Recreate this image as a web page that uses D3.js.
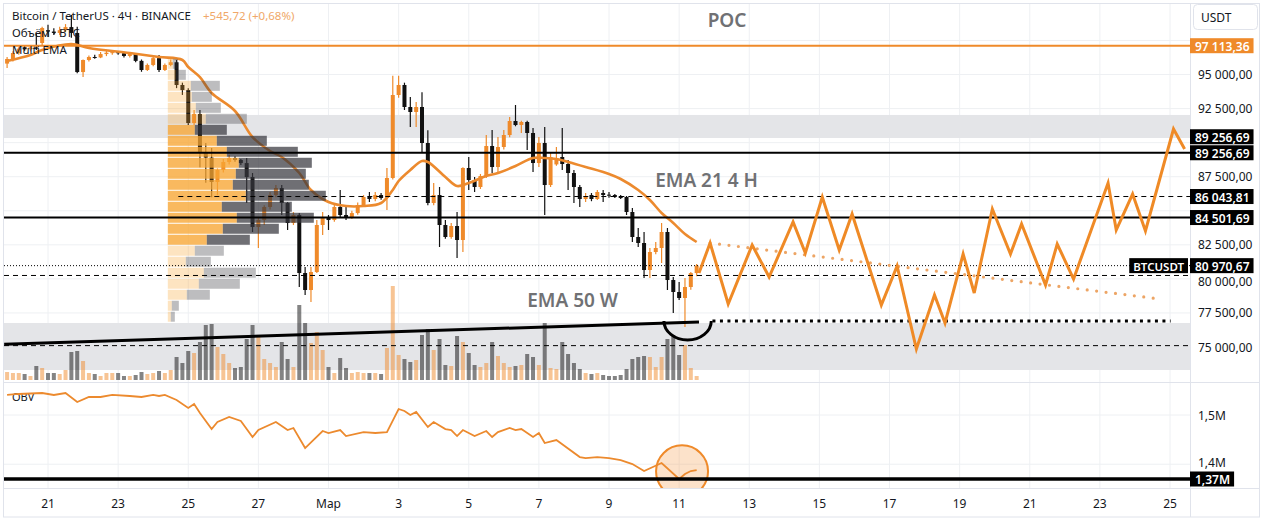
<!DOCTYPE html>
<html><head><meta charset="utf-8">
<script src="https://cdn.jsdelivr.net/npm/d3@7"></script>
<style>html,body{margin:0;padding:0;background:#fff}svg{display:block;font-family:"Noto Sans",sans-serif}</style>
</head><body>
<svg id="chart" width="1262" height="524"></svg>
<script>
// ---------- DATA ----------
const T0 = Date.UTC(2025,1,21);            // candle index 0 = 21 Feb 2025 00:00 UTC
const H4 = 4*3600e3;
const FIRST = -7;                          // first visible candle index
// [open, high, low, close] for 4H candles from index -7 to 111
const ohlc = [
[95800,96280,95480,96140],[96140,96700,95950,96578],[96578,97000,96450,96900],[97000,97150,96750,96850],[96850,97050,96700,96990],[96990,98000,96800,96900],[97312,98500,97100,98413],
[98250,98650,97750,98150],[98150,98400,97900,98050],[98050,98500,97900,98250],[98250,98700,98100,98480],[98480,99370,97700,98050],[98050,98500,95100,95180],[95180,96100,94820,96064],[96064,96400,95950,96285],[96285,96450,96150,96250],[96250,96650,96200,96500],
[96500,96750,96350,96600],[96600,96800,96450,96640],[96640,96700,96450,96560],[96560,96650,96250,96360],[96360,96600,96250,96500],[96500,96550,95900,96000],[96000,96100,95200,95330],[95330,95800,95250,95700],[95700,96300,95600,96200],[96200,96430,95180,95330],
[95330,95800,95250,95700],[95700,96100,95600,95900],[95900,96064,94000,94230],[94230,94400,93500,93860],[93860,94000,91300,91440],[91440,92400,91300,92100],[92100,92400,88200,89310],[89310,89970,87050,88900],[88900,89600,86000,87110],[87110,88100,86150,87990],
[87990,88800,87800,88578],[88578,89100,88400,88870],[88870,89000,88600,88724],[88724,88800,88350,88500],[88500,88870,85568,87476],[87476,87770,83440,83807],[83807,84500,82266,84320],[84320,85400,83950,85275],[85275,86376,85100,86155],[86155,86889,86000,86669],
[86669,86889,84687,85568],[85568,85640,83587,84100],[84100,84900,83950,84687],[84687,84830,79403,80431],[80431,80870,78816,79183],[79183,80870,78300,80504],[80504,84320,80431,83954],[83954,84908,83220,84467],[84467,84687,83587,84320],[84320,85568,84200,85275],
[85275,86522,84540,84687],[84687,85421,84320,84540],[84540,85000,84400,84830],[84830,85600,84700,85421],[85421,86150,85300,86008],[86008,86376,85640,85862],[85862,86376,85700,86155],[86155,86300,85800,85935],[85935,88137,85054,87403],[87403,94900,87300,93495],
[93495,94900,93300,94229],[94229,94400,92394,92615],[92615,93350,91150,92248],[92248,92980,91150,92615],[92615,93700,89238,89972],[89972,90900,85400,85568],[85568,87036,85400,86155],[86155,86743,82340,83954],[83954,84320,82950,83073],[83073,84100,82950,83880],
[83880,84900,81530,82853],[82853,88200,81972,88137],[88137,88945,86522,87256],[87256,87476,86376,86743],[86743,87700,86600,87550],[87550,90559,87403,89752],[89752,90926,87770,88210],[88210,90412,87770,89679],[89679,90926,89500,90559],[90559,91880,90400,91587],
[91587,92760,91200,91294],[91294,91600,90706,91514],[91514,91600,89459,90706],[90706,91074,87843,88504],[88504,90412,88210,89972],[89972,91147,84687,86889],[86889,89238,86743,88945],[88400,89679,88300,88871],[88945,91074,87990,88431],[88431,88724,86522,87770],
[87770,87990,85568,86743],[86743,86889,85275,85862],[85862,86302,85640,86082],[86155,86300,85700,85862],[85862,86522,85788,86376],[86302,86522,85640,86155],[86180,86380,85950,86130],[86155,86230,85935,86008],[86082,86155,85862,85935],[86008,86082,84687,84908],
[84908,85200,82700,83073],[83073,83734,82340,82633],[82633,83440,80064,80651],[80651,82266,80064,81972],[81972,82706,81800,82266],[82266,84100,81165,83440],[83440,83734,79183,79917],[79917,80137,77500,79037],[79037,79770,78449,78596],[78596,80064,76467,79403],
[79403,80500,79200,80425],[80425,81100,80200,80970.67]
];
const volume = [800,700,700,600,400,1400,1200,
700,700,600,1000,2800,2900,1900,700,600,400,
700,700,700,400,400,500,800,600,700,900,
700,1000,2300,1700,2900,2700,3800,5500,5600,3300,
2600,1700,1200,1300,4100,5500,4500,2100,1700,1300,
3800,2100,1300,7500,5700,3700,4800,3000,1300,700,
2200,1200,700,800,700,700,700,600,3200,9400,
2500,2100,1800,2000,4500,5100,3000,4100,1500,1400,
4400,3800,2700,1500,1300,1700,3800,2400,1700,1300,
1400,1500,2600,2300,1500,5700,1200,1100,3800,2600,
1700,1100,700,600,700,500,400,400,500,1100,
2100,2300,2400,2300,1300,2300,4100,4500,2500,3500,
1200,400];
// EMA 21 (4H): [candle index, price]
const emaIdx = [-7,-3,-1,4,7,14,19,23,24,26,28,32,35,38,40,43,45,48,51,54,57,59,60,62,64,65,68,70,72,75,77,80,83,85,87,89,92,96,98,101,103,105,107,109,111];
const emaVal = [95991,96431,96798,97239,96945,96578,96285,96064,95550,94800,93642,92321,90412,89385,88945,87770,86522,85641,85348,85348,85568,86522,87183,87990,88651,88578,87476,86816,87036,87550,87770,88284,88871,88871,88798,88578,88210,87697,87330,86522,85788,84834,84100,83293,82706];
// OBV: [candle index, value in millions]
const obvIdx = [-7,-5,-1,1,3,5,7,9,11,14,16,18,19,20,22,24,25,26,28,29,31,33,35,36,39,41,42,44,47,48,50,51,54,56,58,60,61,62,63,65,66,68,69,70,71,73,75,76,77,79,80,81,83,84,85,87,91,92,94,96,98,100,102,105,108,109,110,111];
const obvVal = [1.5407,1.5427,1.5447,1.5407,1.5447,1.5264,1.5366,1.5366,1.5407,1.5386,1.5366,1.5407,1.5386,1.5407,1.5305,1.5142,1.5224,1.5041,1.4715,1.4858,1.4959,1.4878,1.4553,1.4695,1.4858,1.4695,1.4736,1.4329,1.4675,1.4634,1.4695,1.4573,1.4654,1.4634,1.4654,1.5122,1.5081,1.5000,1.5061,1.4756,1.4858,1.4715,1.4695,1.4573,1.4695,1.4573,1.4675,1.4553,1.4654,1.4736,1.4695,1.4715,1.4553,1.4634,1.4431,1.4492,1.4146,1.4126,1.4146,1.4126,1.4085,1.4004,1.3862,1.4024,1.3700,1.3800,1.3862,1.3882];
// Fixed-range volume profile rows (top to bottom)
const PROF_START = 21, PROF_TOP = 96150, PROF_STEP = 807, VA_ROWS = [6,16];
const profUp   = [500,800,2300,2400,2800,3800,2700,4900,5900,7100,6800,6500,7800,5400,6900,5500,3900,2700,1800,3600,3100,1900,400,300];
const profDown = [500,1000,2900,2000,2500,4100,3200,5000,7100,7300,7000,7600,8000,7000,7700,5600,4300,2900,2500,5200,4100,2300,700,400];
// drawings
const bands = [[92030,90340],[76760,73310]];
const pocLevel = 97113.36;
const solidLevels = [89256.69, 84501.69];
const dashedLevels = [[86043.81,22.3],[80250,-8],[75100,-8]];   // [price, start index]
const lastPrice = 80970.67;
const ema50w = [[-7.5,75200],[111.4,76830]];
const smile = {left:105.4, right:113.5, level:76911, bottom:75516};
const supportDots = [[113.7,76911],[192.1,76911]];
const trendDots = [[113.3,82633],[190.3,78523]];
const zigIdx   = [111.4,113.3,116.4,120.5,123.4,127.5,129.6,132.5,135.4,137.6,142.6,145.3,148.6,151.7,153.5,156.6,158.5,161.6,164.7,166.6,170.7,172.7,175.5,181.4,182.8,185.6,187.8,192.6,194.5];
const zigPrice = [80430,82633,78156,82486,80137,84174,81899,86008,82119,84761,78082,80944,74852,78816,76761,81825,78963,85128,81825,84027,79550,82560,79990,87036,83587,86229,83513,91000,89532];
const notes = [["POC",116.2,99000,"middle"],["EMA 21 4 H",103.9,87256,"start"],["EMA 50 W",82,78449,"start"]];
const obvCircle = {idx:108.5, val:1.3855, r:26};
const obvLevel = 1.37;
const priceTicks = [75000,77500,80000,82500,85000,87500,90000,92500,95000,97500];
const obvTicks = [1.4,1.5];
const xTickDates = ["2025-02-21","2025-02-23","2025-02-25","2025-02-27","2025-03-01","2025-03-03","2025-03-05","2025-03-07","2025-03-09","2025-03-11","2025-03-13","2025-03-15","2025-03-17","2025-03-19","2025-03-21","2025-03-23","2025-03-25"];
const xTickLabels = ["21","23","25","27","Мар","3","5","7","9","11","13","15","17","19","21","23","25"];
const tags = [[97113.36,"#ef8a2a"],[89256.69,"#000"],[89256.69,"#000"],[86043.81,"#000"],[84501.69,"#000"],[80970.67,"#000"]];

// ---------- LAYOUT ----------
const L=4, R=1190, PT=4, PB=382, OT=382, OB=488, AB=517;
const UP="#ef8a2a", DN="#111111";
const svg = d3.select("#chart");
const xS = d3.scaleUtc().domain([new Date(Date.UTC(2025,1,21)), new Date(Date.UTC(2025,2,25))]).range([48,1170]);
const xi = i => xS(new Date(T0 + i*H4));
const yP = d3.scaleLinear().domain([75000,95000]).range([347,74.5]);
const yV = d3.scaleLinear().domain([0,9400]).range([380,286]);
const yO = d3.scaleLinear().domain([1.37e6,1.5e6]).range([479,415]);
const wProf = d3.scaleLinear().domain([0,15800]).range([0,158]);
const loc = d3.formatLocale({decimal:",",thousands:" ",grouping:[3],currency:["",""]});
const fmt = loc.format(",.2f");

svg.append("rect").attr("width",1262).attr("height",524).attr("fill","#fff");
const defs = svg.append("defs");
defs.append("clipPath").attr("id","cp").append("rect").attr("x",L).attr("y",PT).attr("width",R-L).attr("height",PB-PT);
defs.append("clipPath").attr("id","co").append("rect").attr("x",L).attr("y",OT).attr("width",R-L).attr("height",OB-OT);

// grid
const xTicks = xTickDates.map(s=>new Date(s+"T00:00:00Z"));
svg.append("g").selectAll("line").data(xTicks).join("line")
  .attr("x1",d=>xS(d)).attr("x2",d=>xS(d)).attr("y1",PT).attr("y2",OB).attr("stroke","#eef0f3");
svg.append("g").selectAll("line").data(priceTicks).join("line")
  .attr("x1",L).attr("x2",R).attr("y1",d=>yP(d)).attr("y2",d=>yP(d)).attr("stroke","#eef0f3");
svg.append("g").selectAll("line").data(obvTicks).join("line")
  .attr("x1",L).attr("x2",R).attr("y1",d=>yO(d*1e6)).attr("y2",d=>yO(d*1e6)).attr("stroke","#eef0f3");

const pg = svg.append("g").attr("clip-path","url(#cp)");
// bands
pg.selectAll("rect.band").data(bands).join("rect").attr("class","band")
  .attr("x",L).attr("width",R-L).attr("y",d=>yP(d[0])).attr("height",d=>yP(d[1])-yP(d[0])).attr("fill","#e4e5e8");

// legend
const lg = svg.append("g").style("font-size","11.5px").attr("fill","#131722");
lg.append("text").attr("x",12).attr("y",20).text("Bitcoin / TetherUS · 4Ч · BINANCE");
lg.append("text").attr("x",203).attr("y",20).attr("fill","#f0a868").text("+545,72 (+0,68%)");
lg.append("text").attr("x",12).attr("y",37).text("Объём · BTC");
lg.append("text").attr("x",12).attr("y",54).text("Multi EMA");

// volume
const cData = ohlc.map((d,k)=>({i:FIRST+k,o:d[0],h:d[1],l:d[2],c:d[3],v:volume[k]}));
pg.append("g").selectAll("rect").data(cData).join("rect")
  .attr("x",d=>xi(d.i)-2).attr("width",4).attr("y",d=>yV(d.v)).attr("height",d=>yV(0)-yV(d.v))
  .attr("fill",d=>d.c>=d.o?"rgba(239,138,42,0.5)":"rgba(10,10,10,0.5)");

// candles
const cg = pg.append("g");
cg.selectAll("line").data(cData).join("line")
  .attr("x1",d=>xi(d.i)).attr("x2",d=>xi(d.i)).attr("y1",d=>yP(d.h)).attr("y2",d=>yP(d.l))
  .attr("stroke",d=>d.c>=d.o?UP:DN).attr("stroke-width",1.2);
cg.selectAll("rect").data(cData).join("rect")
  .attr("x",d=>xi(d.i)-2).attr("width",4)
  .attr("y",d=>yP(Math.max(d.o,d.c))).attr("height",d=>Math.max(1,yP(Math.min(d.o,d.c))-yP(Math.max(d.o,d.c))))
  .attr("fill",d=>d.c>=d.o?UP:DN);

// EMA 21
pg.append("path").datum(emaIdx.map((i,k)=>[xi(i),yP(emaVal[k])]))
  .attr("d",d3.line().curve(d3.curveCatmullRom)).attr("fill","none").attr("stroke","#ec8a2e").attr("stroke-width",2.6);

// volume profile
const px0 = xi(PROF_START)-2.9;
const prof = pg.append("g");
profUp.forEach((u,k)=>{
  const dn = profDown[k], yt = yP(PROF_TOP-k*PROF_STEP), yb = yP(PROF_TOP-(k+1)*PROF_STEP);
  const va = k>=VA_ROWS[0] && k<=VA_ROWS[1];
  prof.append("rect").attr("x",px0).attr("y",yt).attr("width",wProf(u)).attr("height",yb-yt-1)
    .attr("fill",va?"rgba(247,165,50,0.78)":"rgba(247,165,50,0.3)");
  prof.append("rect").attr("x",px0+wProf(u)).attr("y",yt).attr("width",wProf(dn)).attr("height",yb-yt-1)
    .attr("fill",va?"rgba(55,55,62,0.72)":"rgba(55,55,62,0.33)");
});

// level lines
pg.append("line").attr("x1",L).attr("x2",R).attr("y1",yP(pocLevel)).attr("y2",yP(pocLevel)).attr("stroke","#ef8a2a").attr("stroke-width",2);
pg.selectAll("line.sl").data(solidLevels).join("line").attr("class","sl")
  .attr("x1",L).attr("x2",R).attr("y1",d=>yP(d)).attr("y2",d=>yP(d)).attr("stroke","#000").attr("stroke-width",2);
pg.selectAll("line.dl").data(dashedLevels).join("line").attr("class","dl")
  .attr("x1",d=>Math.max(L,xi(d[1]))).attr("x2",R).attr("y1",d=>yP(d[0])).attr("y2",d=>yP(d[0]))
  .attr("stroke","#000").attr("stroke-width",1).attr("stroke-dasharray","5,4");
pg.append("line").attr("x1",L).attr("x2",R).attr("y1",yP(lastPrice)).attr("y2",yP(lastPrice))
  .attr("stroke","#000").attr("stroke-width",1).attr("stroke-dasharray","1,2");

// EMA 50 W & smile & support dots
pg.append("line").attr("x1",xi(ema50w[0][0])).attr("y1",yP(ema50w[0][1])).attr("x2",xi(ema50w[1][0])).attr("y2",yP(ema50w[1][1]))
  .attr("stroke","#000").attr("stroke-width",3);
{
  const xl=xi(smile.left), xr=xi(smile.right), yl=yP(smile.level), yb=yP(smile.bottom);
  pg.append("path").attr("d",`M${xl},${yl} A${(xr-xl)/2},${yb-yl} 0 0 0 ${xr},${yl}`)
    .attr("fill","none").attr("stroke","#000").attr("stroke-width",3);
}
pg.append("line").attr("x1",xi(supportDots[0][0])).attr("y1",yP(supportDots[0][1])).attr("x2",xi(supportDots[1][0])).attr("y2",yP(supportDots[1][1]))
  .attr("stroke","#000").attr("stroke-width",3).attr("stroke-dasharray","3,4.5");
pg.append("line").attr("x1",xi(trendDots[0][0])).attr("y1",yP(trendDots[0][1])).attr("x2",xi(trendDots[1][0])).attr("y2",yP(trendDots[1][1]))
  .attr("stroke","#eda565").attr("stroke-width",3.2).attr("stroke-linecap","round").attr("stroke-dasharray","0,9.5");
pg.append("path").datum(zigIdx.map((i,k)=>[xi(i),yP(zigPrice[k])]))
  .attr("d",d3.line()).attr("fill","none").attr("stroke","#ef8a26").attr("stroke-width",3).attr("stroke-linejoin","miter");

// notes
pg.selectAll("text.note").data(notes).join("text").attr("class","note")
  .attr("x",d=>xi(d[1])).attr("y",d=>yP(d[2])).attr("text-anchor",d=>d[3]).attr("dominant-baseline","central")
  .style("font-size","19px").style("font-weight","600").attr("fill","#707174").text(d=>d[0]);

// OBV pane
const og = svg.append("g").attr("clip-path","url(#co)");
og.append("text").attr("x",12).attr("y",401).style("font-size","11px").attr("fill","#131722").text("OBV");
og.append("circle").attr("cx",xi(obvCircle.idx)).attr("cy",yO(obvCircle.val*1e6)).attr("r",obvCircle.r)
  .attr("fill","rgba(245,160,80,0.3)").attr("stroke","#ef8a2a").attr("stroke-width",2);
og.append("path").datum(obvIdx.map((i,k)=>[xi(i),yO(obvVal[k]*1e6)]))
  .attr("d",d3.line()).attr("fill","none").attr("stroke","#ec8a2e").attr("stroke-width",1.8);
og.append("line").attr("x1",L).attr("x2",R).attr("y1",yO(obvLevel*1e6)).attr("y2",yO(obvLevel*1e6)).attr("stroke","#000").attr("stroke-width",3.5);

// separators / borders
const sep = svg.append("g").attr("stroke","#e0e3eb").attr("fill","none");
sep.append("line").attr("x1",L).attr("x2",1260).attr("y1",OT+0.5).attr("y2",OT+0.5);
sep.append("line").attr("x1",L).attr("x2",1260).attr("y1",OB+0.5).attr("y2",OB+0.5);
sep.append("line").attr("x1",R+0.5).attr("x2",R+0.5).attr("y1",PT).attr("y2",AB);
sep.append("rect").attr("x",3.5).attr("y",3.5).attr("width",1256).attr("height",AB-3.5);

// price tags with collision avoidance (computed first so covered axis labels can be skipped)
const TH=15;
const tagPos = tags.map((t,k)=>({v:t[0],bg:t[1],y:yP(t[0]),k}));
const sorted = tagPos.slice().sort((a,b)=>b.y-a.y || b.k-a.k);
for(let j=1;j<sorted.length;j++){ if(sorted[j].y > sorted[j-1].y-TH-1) sorted[j].y = sorted[j-1].y-TH-1; }
const visibleTicks = priceTicks.filter(p=>tagPos.every(t=>Math.abs(yP(p)-t.y)>=12.5));
// nudge labels that sit right next to a tag so they do not touch it
const labelY = p => {
  let yy = yP(p);
  tagPos.forEach(t=>{ const d=yy-t.y; if(Math.abs(d)<16){ yy = t.y + (d>0?16:-16); } });
  return yy;
};

// axes labels
const ax = svg.append("g").style("font-size","12px").attr("fill","#131722");
ax.selectAll("text.xt").data(xTicks).join("text").attr("class","xt")
  .attr("x",d=>xS(d)).attr("y",503).attr("text-anchor","middle").attr("dominant-baseline","central").text((d,k)=>xTickLabels[k]);
ax.selectAll("text.yt").data(visibleTicks).join("text").attr("class","yt")
  .attr("x",1198).attr("y",d=>labelY(d)).attr("dominant-baseline","central").text(d=>fmt(d));
ax.selectAll("text.ot").data(obvTicks).join("text").attr("class","ot")
  .attr("x",1198).attr("y",d=>yO(d*1e6)-(d===1.4?2:0)).attr("dominant-baseline","central").text(d=>d.toFixed(1).replace(".",",")+"M");
// USDT box
svg.append("rect").attr("x",1193.5).attr("y",4.5).attr("width",64).attr("height",25).attr("rx",4).attr("fill","#fff").attr("stroke","#e0e3eb");
svg.append("text").attr("x",1201).attr("y",17).attr("dominant-baseline","central").style("font-size","12px").attr("fill","#131722").text("USDT");

const tg = svg.append("g");
tagPos.forEach(t=>{
  const g = tg.append("g");
  const r = g.append("rect").attr("x",R).attr("y",t.y-TH/2).attr("height",TH).attr("fill",t.bg);
  const tx = g.append("text").attr("x",R+5).attr("y",t.y+0.5).attr("dominant-baseline","central")
    .style("font-size","12px").style("font-weight","600").attr("fill","#fff").text(fmt(t.v));
  r.attr("width",tx.node().getComputedTextLength()+9);
});
// symbol label
{
  const yl = yP(lastPrice);
  const g = tg.append("g");
  const tx = g.append("text").attr("y",yl+0.5).attr("dominant-baseline","central").style("font-size","11.5px").style("font-weight","600").attr("fill","#fff").text("BTCUSDT");
  const w = tx.node().getComputedTextLength()+8;
  g.insert("rect","text").attr("x",R-2-w).attr("y",yl-TH/2).attr("width",w).attr("height",TH).attr("fill","#000");
  tx.attr("x",R-2-w+4);
}
// OBV tag
{
  const yl = yO(obvLevel*1e6);
  const g = tg.append("g");
  const tx = g.append("text").attr("x",R+5).attr("y",yl+0.5).attr("dominant-baseline","central").style("font-size","12px").style("font-weight","600").attr("fill","#fff").text(obvLevel.toFixed(2).replace(".",",")+"M");
  g.insert("rect","text").attr("x",R).attr("y",yl-TH/2).attr("width",tx.node().getComputedTextLength()+9).attr("height",TH).attr("fill","#000");
}
</script>
</body></html>
